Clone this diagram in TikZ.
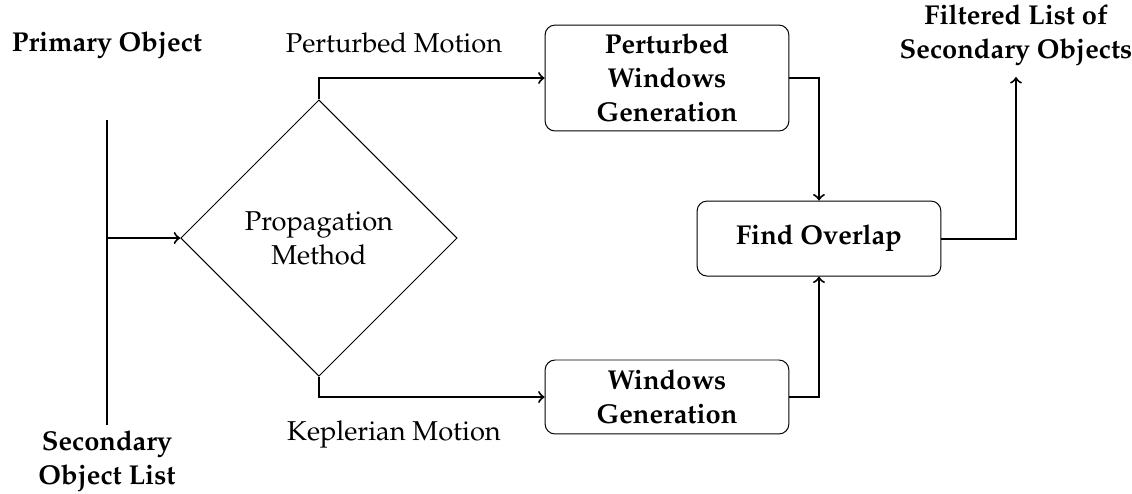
\documentclass[11pt,tikz,border=0pt]{standalone}
\usepackage[T1]{fontenc}
\usepackage{mathpazo}
\usetikzlibrary{shapes.geometric}

\begin{document}
\begin{tikzpicture}[
    block/.style={draw, rounded corners, minimum width=3.44cm, align=center, font=\bfseries},
    link/.style={thick},
    label/.style={align=center, font=\bfseries}
]
    \useasboundingbox (0,0) rectangle (15.974,6.957);

    % Inputs (left)
    \node[label] (primary) at (1.510,6.322) {Primary Object};
    \node[label] (secondary) at (1.510,0.452) {Secondary\\Object List};
    \coordinate (intop) at (1.510,5.263);
    \coordinate (inbot) at (1.510,0.960);
    \coordinate (injoin) at (1.510,3.598);
    \draw[link] (intop) -- (inbot);

    % Decision
    \node[draw, diamond, aspect=1, minimum size=3.9cm, inner sep=0pt, align=center] (method) at (4.501,3.598) {Propagation\\Method};
    \draw[link, ->] (injoin) -- (method.west);

    % Perturbed branch (upper)
    \node[block, minimum height=1.425cm] (perturbed) at (9.412,5.856) {Perturbed\\Windows\\Generation};
    \node (pertlabel) at (5.560,6.350) {Perturbed Motion};
    \draw[link, ->] (method.north) |- (perturbed.west);

    % Keplerian branch (lower)
    \node[block, minimum height=1.044cm] (windows) at (9.412,1.355) {Windows\\Generation};
    \node (keplabel) at (5.560,0.830) {Keplerian Motion};
    \draw[link, ->] (method.south) |- (windows.west);

    % Overlap and output (right)
    \node[block, minimum height=1.058cm] (overlap) at (11.557,3.591) {Find Overlap};
    \draw[link, ->] (perturbed.east) -| (overlap.north);
    \draw[link, ->] (windows.east) -| (overlap.south);
    \node[label] (filtered) at (14.337,6.463) {Filtered List of\\Secondary Objects};
    \coordinate (outtip) at (14.337,5.870);
    \draw[link, ->] (overlap.east) -| (outtip);
\end{tikzpicture}
\end{document}
